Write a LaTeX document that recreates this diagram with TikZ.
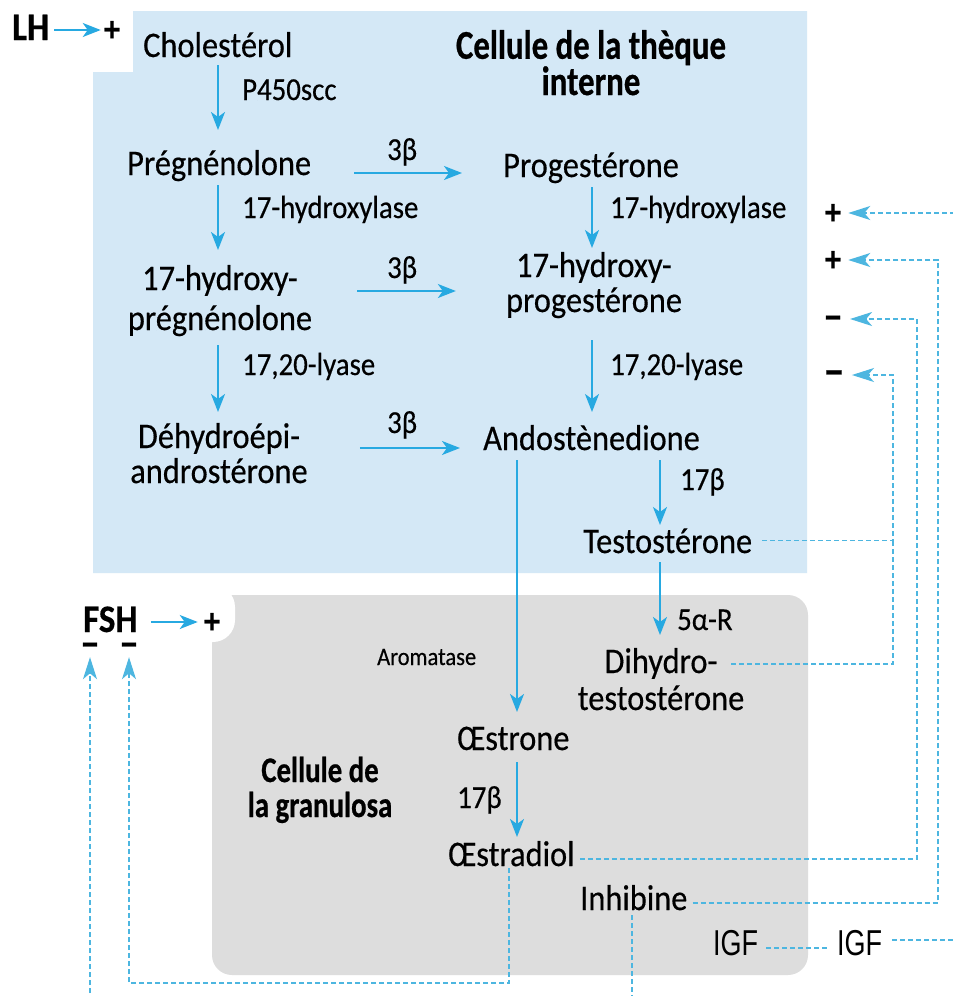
\documentclass[tikz,border=0pt]{standalone}
\usepackage{fontspec}
\setmainfont{Carlito}[FakeStretch=0.9,FakeBold=0.4]
\newfontfamily\titlefont{Carlito}[FakeStretch=0.8,FakeBold=0.6]
\newfontfamily\igffont{Liberation Sans}[FakeStretch=0.75]
\usetikzlibrary{arrows.meta}
\definecolor{bluebg}{HTML}{D4E8F6}
\definecolor{graybg}{HTML}{DDDDDD}
\definecolor{cy}{HTML}{27A9E1}
\definecolor{cyd}{HTML}{4DB6E0}
\begin{document}
\begin{tikzpicture}[x=1pt,y=-1pt,
  txt/.style={inner sep=0pt, anchor=base west, font=\fontsize{36}{38}\selectfont},
  lbl/.style={inner sep=0pt, anchor=base west, font=\fontsize{32}{34}\selectfont},
  sm/.style={inner sep=0pt, anchor=base west, font=\fontsize{25}{27}\selectfont},
  two/.style={inner sep=0pt, anchor=base, align=center, font=\fontsize{36}{#1}\selectfont},
  ttl/.style={inner sep=0pt, anchor=base, align=center, font=\titlefont\bfseries\fontsize{#1}{35}\selectfont},
  hd/.style={inner sep=0pt, anchor=base west, font=\bfseries\fontsize{39}{41}\selectfont},
  igf/.style={inner sep=0pt, anchor=base west, font=\igffont\fontsize{36}{38}\selectfont},
  sgn/.style={inner sep=0pt, anchor=center, text height=22pt, text depth=0pt, font=\bfseries\fontsize{36}{38}\selectfont},
  msgn/.style={sgn, font=\bfseries\fontsize{44}{46}\selectfont},
  arr/.style={draw=cy, line width=1.8pt, -{Stealth[length=18pt,width=14pt,inset=5pt]}},
  dline/.style={draw=cyd, line width=1.2pt, dash pattern=on 5pt off 3pt},
  darr/.style={dline, -{Stealth[length=22pt,width=14pt,inset=6pt]}}
]
\useasboundingbox (0,0) rectangle (953,996);
\clip (0,0) rectangle (953,996);
\fill[white] (0,0) rectangle (953,996);
% backgrounds
\fill[bluebg] (133,11) -- (807,11) -- (807,573) -- (93,573) -- (93,72) -- (133,72) -- cycle;
\fill[graybg, rounded corners=20pt] (212,595) rectangle (808,975);
\fill[white, rounded corners=22pt] (60,585) rectangle (235,642);
% helper coordinates
\coordinate (cL) at (218,0);
\coordinate (cR) at (592,0);
\coordinate (cT) at (660,0);
\coordinate (cA) at (517,0);
\coordinate (cE) at (509,0);
\coordinate (cI) at (632,0);
\coordinate (v1) at (893,0);
\coordinate (v2) at (917,0);
\coordinate (v3) at (938,0);
\coordinate (v4) at (1000,0);
\coordinate (r1) at (0,173);
\coordinate (r2) at (0,291);
\coordinate (r3) at (0,448);
\coordinate (yb1) at (0,983);
\coordinate (yb2) at (0,1003);
\coordinate (ylh) at (0,30);
\coordinate (yfsh) at (0,622);
% nodes
\node[hd] (lh) at (12,40) {LH};
\node[sgn] (lhp) at (112,30) {+};
\node[txt] (chol) at (143,57) {Cholestérol};
\node[lbl] (p450) at (242,100) {P450scc};
\node[txt] (preg) at (127,175) {Prégnénolone};
\node[lbl] (b1) at (387,160) {3β};
\node[txt] (prog) at (503,177) {Progestérone};
\node[lbl] (hyd1) at (242,218) {17-hydroxylase};
\node[lbl] (hyd2) at (610,218) {17-hydroxylase};
\node[two=40] (ohpreg) at (220,330) {17-hydroxy-\\prégnénolone};
\node[lbl] (b2) at (387,278) {3β};
\node[two=35] (ohprog) at (594,312) {17-hydroxy-\\progestérone};
\node[lbl] (ly1) at (242,375) {17,20-lyase};
\node[lbl] (ly2) at (610,375) {17,20-lyase};
\node[two=35] (dhea) at (219,483) {Déhydroépi-\\androstérone};
\node[lbl] (b3) at (387,433) {3β};
\node[txt] (andro) at (483,450) {Andostènedione};
\node[lbl] (b17a) at (680,490) {17β};
\node[txt] (testo) at (583,553) {Testostérone};
\node[lbl] (ar5) at (677,630) {5α-R};
\node[two=37] (dht) at (661,710) {Dihydro-\\testostérone};
\node[sm] (arom) at (377,665) {Aromatase};
\node[txt] (oe1) at (457,750) {Œstrone};
\node[lbl] (b17b) at (457,808) {17β};
\node[txt] (oe2) at (448,866) {Œstradiol};
\node[txt] (inh) at (580,910) {Inhibine};
\node[igf] (igf1) at (713,955) {IGF};
\node[igf] (igf2) at (837,955) {IGF};
\node[ttl=41] (theque) at (591,95) {Cellule de la thèque\\interne};
\node[ttl=36] (granu) at (320,817) {Cellule de\\la granulosa};
\node[hd] (fsh) at (83,632) {FSH};
\node[sgn] (fshp) at (212,622) {+};
\node[msgn] (fm) at (90,646) {–};
\node[msgn] (hm) at (129,646) {–};
\node[sgn] (pl1) at (833,213) {+};
\node[sgn] (pl2) at (833,260) {+};
\node[msgn] (mn1) at (833,319) {–};
\node[msgn, font=\bfseries\fontsize{48}{50}\selectfont] (mn2) at (834,375) {–};
% solid arrows
\draw[arr, shorten <=5pt, shorten >=3pt] (lh.east |- ylh) -- (lhp.west |- ylh);
\draw[arr, shorten <=13pt, shorten >=6pt] (fsh.east |- yfsh) -- (fshp.west |- yfsh);
\draw[arr, shorten <=8pt, shorten >=45pt] (chol.base -| cL) -- (preg.base -| cL);
\draw[arr, shorten <=10pt, shorten >=80pt] (preg.base -| cL) -- (ohpreg.base -| cL);
\draw[arr, shorten <=15pt, shorten >=71pt] (ohpreg.base -| cL) -- (dhea.base -| cL);
\draw[arr, shorten <=10pt, shorten >=64pt] (prog.base -| cR) -- (ohprog.base -| cR);
\draw[arr, shorten <=28pt, shorten >=38pt] (ohprog.base -| cR) -- (andro.base -| cR);
\draw[arr, shorten <=10pt, shorten >=28pt] (andro.base -| cT) -- (testo.base -| cT);
\draw[arr, shorten <=9pt, shorten >=75pt] (testo.base -| cT) -- (dht.base -| cT);
\draw[arr, shorten <=10pt, shorten >=38pt] (andro.base -| cA) -- (oe1.base -| cA);
\draw[arr, shorten <=12pt, shorten >=29pt] (oe1.base -| cA) -- (oe2.base -| cA);
\draw[arr, shorten <=43pt, shorten >=41pt] (preg.east |- r1) -- (prog.west |- r1);
\draw[arr, shorten <=45pt, shorten >=50pt] (ohpreg.east |- r2) -- (ohprog.west |- r2);
\draw[arr, shorten <=52pt, shorten >=23pt] (dhea.east |- r3) -- (andro.west |- r3);
% dashed feedback
\draw[darr, shorten >=7pt] ([xshift=10pt]testo.east) -| (v1 |- mn2) -- (mn2.east);
\draw[dline] ([xshift=-13pt,yshift=46pt]dht.base east) -| (v1 |- testo.east);
\draw[darr, shorten >=7pt] ([xshift=5pt,yshift=7pt]oe2.base east) -| (v2 |- mn1) -- (mn1.east);
\draw[darr, shorten >=7pt] ([xshift=5pt,yshift=7pt]inh.base east) -| (v3 |- pl2) -- (pl2.east);
\draw[darr, shorten >=7pt] ([xshift=10pt,yshift=15pt]igf2.base east) -| (v4 |- pl1) -- (pl1.east);
\draw[dline, shorten <=8pt, shorten >=10pt] ([yshift=7pt]igf1.base east) -- ([yshift=7pt]igf2.base west);
\draw[darr, shorten <=2pt] (oe2.base -| cE) |- (hm |- yb1) -- (hm.south);
\draw[darr, shorten <=5pt] (inh.base -| cI) |- (fm |- yb2) -- (fm.south);
\end{tikzpicture}
\end{document}
